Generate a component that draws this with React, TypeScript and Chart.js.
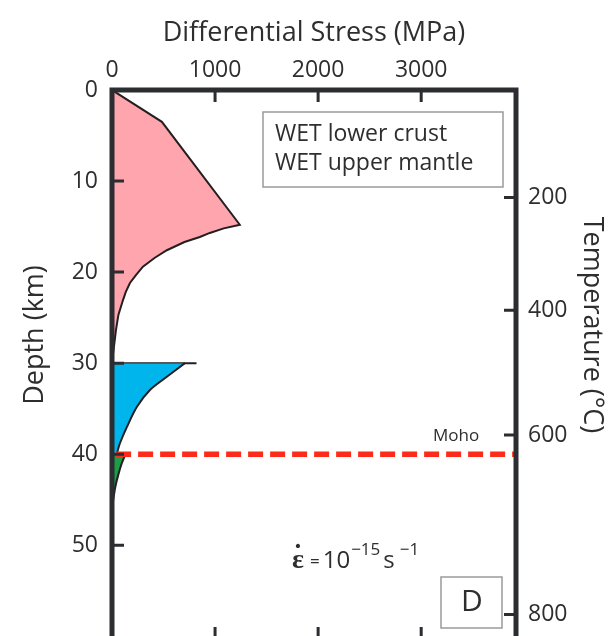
import { useEffect, useRef } from "react";
import { Chart, registerables } from "chart.js";

Chart.register(...registerables);

// Axis ticks
const stressTicks = [0, 1000, 2000, 3000];
const depthTicks = [0, 10, 20, 30, 40, 50];
const temperatureTicks = [200, 400, 600, 800];
const temperatureDepths = [11.8, 24.2, 37.9, 57.6];

// Upper crust strength envelope (stress in MPa, depth in km)
const upperCrustStress = [
  0, 484, 1240, 1084, 949, 852, 703, 532, 412, 300, 234, 174, 133, 106, 62, 38, 21, 10, 0,
];
const upperCrustDepth = [
  0, 3.5, 14.8, 15.2, 15.7, 16.15, 16.7, 17.6, 18.45, 19.4, 20.3, 21.2, 22.2, 23.1, 24.7, 26.4,
  28.0, 29.0, 29.4,
];

// Lower crust
const lowerCrustTopStress = [0, 820];
const lowerCrustTopDepth = [30, 30];
const lowerCrustStress = [707, 532, 368, 242, 145, 77, 48];
const lowerCrustDepth = [30, 31.5, 32.95, 34.8, 37.0, 38.8, 39.9];

// Upper mantle
const mantleStress = [130, 95, 60, 32, 12, 0];
const mantleDepth = [40, 41, 42.3, 43.6, 45, 46];

// Moho
const mohoDepth = 40;
const mohoStress = [40, 3920];

const legendLines = ["WET lower crust", "WET upper mantle"];

const FONT = '"Open Sans", "DejaVu Sans", sans-serif';
const INK = "#2e2e2e";
const FRAME = "#2b2d31";
const OUTLINE = "#231f20";
const PINK = "#ffa5ad";
const BLUE = "#00b5ec";
const GREEN = "#1d9b48";

const toPoints = (xs: number[], ys: number[]) => xs.map((v, i) => ({ x: v, y: ys[i] }));

const decor = {
  id: "panelDecor",
  afterDatasetsDraw(chart: any) {
    const { ctx, chartArea: a, scales } = chart;
    const xs = scales.x;
    const ys = scales.y;
    const yt = scales.temp;
    ctx.save();

    // inward tick marks
    ctx.strokeStyle = FRAME;
    ctx.lineWidth = 3;
    ctx.beginPath();
    for (const v of stressTicks.slice(1)) {
      const px = xs.getPixelForValue(v);
      ctx.moveTo(px, a.top);
      ctx.lineTo(px, a.top + 12);
      ctx.moveTo(px, a.bottom);
      ctx.lineTo(px, a.bottom - 12);
    }
    for (const v of depthTicks.slice(1)) {
      const py = ys.getPixelForValue(v);
      ctx.moveTo(a.left, py);
      ctx.lineTo(a.left + 12, py);
    }
    for (const v of temperatureDepths) {
      const py = yt.getPixelForValue(v);
      ctx.moveTo(a.right, py);
      ctx.lineTo(a.right - 12, py);
    }
    ctx.stroke();

    // frame
    ctx.lineWidth = 5;
    ctx.strokeRect(a.left, a.top, a.right - a.left, a.bottom - a.top);

    // legend box
    ctx.strokeStyle = "#9a9a9a";
    ctx.lineWidth = 1.5;
    ctx.strokeRect(263, 112, 240, 75);
    ctx.fillStyle = INK;
    ctx.font = `23px ${FONT}`;
    ctx.textBaseline = "middle";
    ctx.textAlign = "left";
    ctx.fillText(legendLines[0], 275, 134);
    ctx.fillText(legendLines[1], 275, 163);

    // Moho label
    ctx.font = `17px ${FONT}`;
    ctx.fillText("Moho", 433, ys.getPixelForValue(mohoDepth) - 18);

    // strain rate: epsilon-dot = 10^-15 s^-1
    let cx = 292;
    const base = 568;
    ctx.textBaseline = "alphabetic";
    ctx.font = `bold 28px "Liberation Serif", serif`;
    const epsW = ctx.measureText("\u03B5").width;
    ctx.fillText("\u03B5", cx, base);
    ctx.textAlign = "center";
    ctx.fillText("\u02D9", cx + epsW / 2, base - 5);
    ctx.textAlign = "left";
    cx += epsW + 6;
    ctx.font = `17px ${FONT}`;
    ctx.fillText("=", cx, base - 1);
    cx += ctx.measureText("=").width + 3;
    ctx.font = `24px ${FONT}`;
    ctx.fillText("10", cx, base);
    cx += ctx.measureText("10").width + 1;
    ctx.font = `17px ${FONT}`;
    ctx.fillText("\u221215", cx, base - 13);
    cx += ctx.measureText("\u221215").width + 3;
    ctx.font = `24px ${FONT}`;
    ctx.fillText("s", cx, base);
    cx += ctx.measureText("s").width + 5;
    ctx.font = `17px ${FONT}`;
    ctx.fillText("\u22121", cx, base - 13);

    // panel letter
    ctx.strokeStyle = "#9a9a9a";
    ctx.lineWidth = 1.5;
    ctx.strokeRect(441, 577, 61, 51);
    ctx.font = `30px ${FONT}`;
    ctx.textAlign = "center";
    ctx.textBaseline = "middle";
    ctx.fillText("D", 472, 602);

    ctx.restore();
  },
  afterDraw(chart: any) {
    const { ctx } = chart;
    ctx.save();
    ctx.fillStyle = INK;
    ctx.font = `27px ${FONT}`;
    ctx.textAlign = "center";
    ctx.textBaseline = "middle";
    ctx.translate(35, 335);
    ctx.rotate(-Math.PI / 2);
    ctx.fillText("Depth (km)", 0, 0);
    ctx.restore();

    ctx.save();
    ctx.fillStyle = INK;
    ctx.font = `27px ${FONT}`;
    ctx.textAlign = "center";
    ctx.textBaseline = "middle";
    ctx.translate(592, 325);
    ctx.rotate(Math.PI / 2);
    ctx.fillText("Temperature (\u00B0C)", 0, 0);
    ctx.restore();
  },
};

const fixedVertical = (width: number) => (s: any) => {
  s.width = width;
  s.paddingTop = 0;
  s.paddingBottom = 0;
};

export default function App() {
  const ref = useRef<HTMLCanvasElement | null>(null);

  useEffect(() => {
    if (!ref.current) return;
    const envelope = { borderColor: OUTLINE, borderWidth: 2, pointRadius: 0, fill: "origin" };
    const chart = new Chart(ref.current, {
      type: "line",
      data: {
        datasets: [
          {
            ...envelope,
            data: toPoints(upperCrustStress, upperCrustDepth),
            backgroundColor: PINK,
            tension: 0,
          },
          {
            ...envelope,
            data: toPoints(lowerCrustStress, lowerCrustDepth),
            backgroundColor: BLUE,
            tension: 0.3,
          },
          {
            data: toPoints(lowerCrustTopStress, lowerCrustTopDepth),
            borderColor: OUTLINE,
            borderWidth: 2,
            pointRadius: 0,
            fill: false,
          },
          {
            ...envelope,
            data: toPoints(mantleStress, mantleDepth),
            backgroundColor: GREEN,
            tension: 0.3,
          },
          {
            data: mohoStress.map((s) => ({ x: s, y: mohoDepth })),
            borderColor: "#ff2b1a",
            borderWidth: 5.5,
            borderDash: [15, 7],
            fill: false,
            pointRadius: 0,
            order: -1,
          },
        ],
      },
      options: {
        indexAxis: "y",
        responsive: false,
        animation: false,
        devicePixelRatio: 1,
        layout: { padding: { top: 0, left: 0, right: 0, bottom: 11 } },
        plugins: { legend: { display: false }, tooltip: { enabled: false } },
        scales: {
          x: {
            type: "linear",
            position: "top",
            min: 0,
            max: 3920,
            grid: { display: false, drawTicks: false },
            border: { display: false },
            afterBuildTicks: (s: any) => {
              s.ticks = stressTicks.map((v) => ({ value: v }));
            },
            afterFit: (s: any) => {
              s.height = 90;
              s.paddingLeft = 0;
              s.paddingRight = 0;
            },
            ticks: {
              font: { family: FONT, size: 23 },
              color: INK,
              padding: 6,
              maxRotation: 0,
              callback: (v: any) => String(v),
            },
            title: {
              display: true,
              text: "Differential Stress (MPa)",
              font: { family: FONT, size: 27 },
              color: INK,
              padding: { top: 17, bottom: 0 },
            },
          },
          y: {
            type: "linear",
            position: "left",
            reverse: true,
            min: 0,
            max: 60.3,
            grid: { display: false, drawTicks: false },
            border: { display: false },
            afterBuildTicks: (s: any) => {
              s.ticks = depthTicks.map((v) => ({ value: v }));
            },
            afterFit: fixedVertical(112),
            ticks: { font: { family: FONT, size: 23 }, color: INK, padding: 14 },
          },
          temp: {
            type: "linear",
            position: "right",
            reverse: true,
            min: 0,
            max: 60.3,
            grid: { display: false, drawTicks: false },
            border: { display: false },
            afterBuildTicks: (s: any) => {
              s.ticks = temperatureDepths.map((v) => ({ value: v }));
            },
            afterFit: fixedVertical(92),
            ticks: {
              font: { family: FONT, size: 23 },
              color: INK,
              padding: 12,
              callback: (_v: any, i: number) => String(temperatureTicks[i]),
            },
          },
        },
      } as any,
      plugins: [decor],
    });
    return () => chart.destroy();
  }, []);

  return (
    <div
      style={{
        position: "fixed",
        left: 0,
        top: 0,
        width: 608,
        height: 636,
        overflow: "hidden",
        background: "#fff",
      }}
    >
      <canvas ref={ref} width={608} height={650} style={{ display: "block" }} />
    </div>
  );
}
